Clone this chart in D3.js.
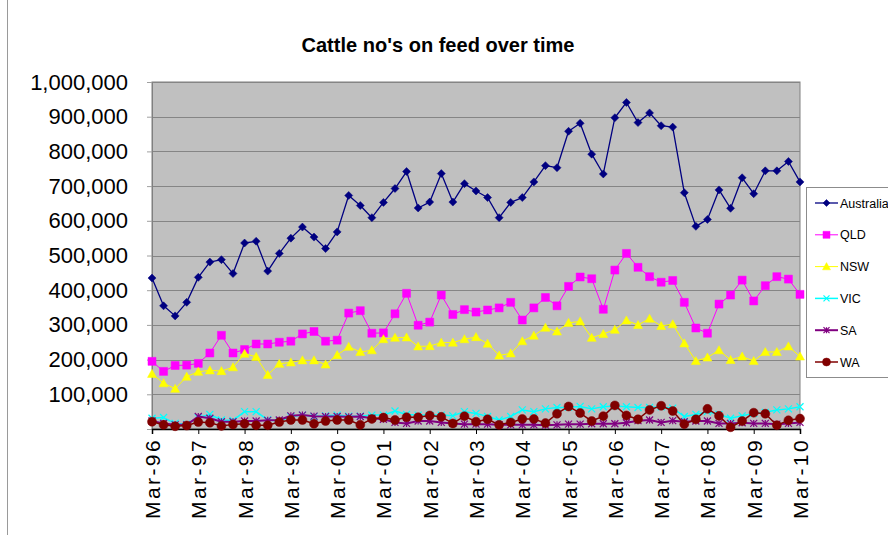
<!DOCTYPE html>
<html>
<head>
<meta charset="utf-8">
<script src="https://cdn.jsdelivr.net/npm/d3@7"></script>
<style>
  body { margin: 0; background: #fff; }
  svg { display: block; }
</style>
</head>
<body>
<div id="chart"></div>
<script>
// quarterly categories
const quarters = [
  "Mar-96","Jun-96","Sep-96","Dec-96","Mar-97","Jun-97","Sep-97","Dec-97",
  "Mar-98","Jun-98","Sep-98","Dec-98","Mar-99","Jun-99","Sep-99","Dec-99",
  "Mar-00","Jun-00","Sep-00","Dec-00","Mar-01","Jun-01","Sep-01","Dec-01",
  "Mar-02","Jun-02","Sep-02","Dec-02","Mar-03","Jun-03","Sep-03","Dec-03",
  "Mar-04","Jun-04","Sep-04","Dec-04","Mar-05","Jun-05","Sep-05","Dec-05",
  "Mar-06","Jun-06","Sep-06","Dec-06","Mar-07","Jun-07","Sep-07","Dec-07",
  "Mar-08","Jun-08","Sep-08","Dec-08","Mar-09","Jun-09","Sep-09","Dec-09",
  "Mar-10"
];

// head on feed, in thousands
const australia = [435,355,326,365,437,481,488,448,536,541,455,506,550,582,553,520,568,673,644,
  609,653,693,742,637,654,736,654,707,686,667,609,653,667,712,759,753,858,881,792,
  735,897,941,883,911,874,870,681,584,604,689,636,724,678,744,744,771,712];
const qld = [195,166,183,184,189,219,270,219,229,245,245,250,253,274,281,253,256,334,341,
  276,277,332,391,299,308,386,330,344,337,343,349,365,314,349,379,355,411,438,433,
  345,458,506,466,439,423,428,365,291,276,360,386,429,369,413,439,432,388];
const nsw = [159,132,116,151,165,169,167,178,217,208,156,188,192,198,198,186,213,237,222,
  227,259,263,264,238,239,249,249,259,265,246,212,218,253,269,292,281,306,310,263,
  274,286,313,300,318,297,302,247,196,206,227,199,209,196,222,222,238,209];
const vic = [31,33,16,14,33,42,26,25,50,50,26,23,36,40,36,
  38,40,37,37,40,40,52,42,40,40,40,38,50,45,
  36,26,36,55,50,58,62,63,65,58,64,66,64,
  62,62,64,60,36,42,50,42,31,38,45,48,55,58,64];
const sa = [23,16,12,12,36,31,21,21,23,23,25,26,38,40,37,
  36,36,35,36,31,28,19,16,23,23,19,16,14,14,
  14,12,12,12,12,11,12,14,14,15,15,15,18,
  24,26,19,24,21,23,23,16,16,18,16,16,14,16,19];
const wa = [21,12,8,10,20,18,9,13,15,11,11,20,26,26,15,
  23,26,26,12,29,33,26,34,34,39,35,16,37,21,
  28,12,19,29,29,17,44,65,46,23,37,68,39,
  28,55,67,52,14,28,58,38,5,23,47,44,11,25,30];

const seriesNames = ["Australia","QLD","NSW","VIC","SA","WA"];
const yTicks = [0,100,200,300,400,500,600,700,800,900,1000];

const series = [
  {name: "Australia", values: australia, color: "#000080", width: 1.3, marker: "diamond"},
  {name: "QLD", values: qld, color: "#ff00ff", width: 1, marker: "square"},
  {name: "NSW", values: nsw, color: "#ffff00", width: 1, marker: "triangle"},
  {name: "VIC", values: vic, color: "#00ffff", width: 1.5, marker: "x"},
  {name: "SA", values: sa, color: "#800080", width: 2, marker: "star"},
  {name: "WA", values: wa, color: "#800000", width: 1.5, marker: "circle"}
];

const width = 888, height = 535;
const plot = {left: 152, right: 800, top: 82, bottom: 429};

const svg = d3.select("#chart").append("svg")
    .attr("width", width)
    .attr("height", height)
    .style("font-family", "Arial, 'Liberation Sans', sans-serif");

// chart area edge on the left
svg.append("line")
    .attr("x1", 7.5).attr("x2", 7.5).attr("y1", 0).attr("y2", height)
    .attr("stroke", "#9a9a9a");

const x = d3.scalePoint().domain(quarters).range([plot.left, plot.right]);
const y = d3.scaleLinear().domain([0, 1000]).range([plot.bottom, plot.top]);

// plot background
svg.append("rect")
    .attr("x", plot.left).attr("y", plot.top)
    .attr("width", plot.right - plot.left).attr("height", plot.bottom - plot.top)
    .attr("fill", "#c0c0c0")
    .attr("stroke", "#808080");

// gridlines
svg.append("g").selectAll("line")
    .data(yTicks.slice(1))
    .enter().append("line")
    .attr("x1", plot.left).attr("x2", plot.right)
    .attr("y1", d => Math.round(y(d)) + 0.5).attr("y2", d => Math.round(y(d)) + 0.5)
    .attr("stroke", "#858585");

// y axis
const yAxis = svg.append("g")
    .attr("transform", `translate(${plot.left},0)`)
    .call(d3.axisLeft(y).tickValues(yTicks).tickSize(5).tickPadding(19)
        .tickFormat(d => d ? d3.format(",")(d * 1000) : ""));
yAxis.select(".domain").attr("stroke", "#808080");
yAxis.selectAll(".tick line").attr("stroke", "#a0a0a0");
yAxis.selectAll(".tick text")
    .attr("font-size", 22)
    .attr("fill", "#000")
    .attr("font-family", "Arial, 'Liberation Sans', sans-serif");

// x axis
const xAxis = svg.append("g")
    .attr("transform", `translate(0,${plot.bottom})`)
    .call(d3.axisBottom(x).tickValues(quarters.filter(q => q.startsWith("Mar"))).tickSize(5));
xAxis.select(".domain").attr("stroke", "#000").attr("stroke-width", 1.5);
xAxis.selectAll(".tick line").attr("stroke", "#000");
xAxis.selectAll(".tick text")
    .attr("font-size", 21)
    .attr("fill", "#000")
    .attr("font-family", "Arial, 'Liberation Sans', sans-serif")
    .attr("letter-spacing", 2.4)
    .attr("text-anchor", "end")
    .attr("transform", "rotate(-90)")
    .attr("x", -9)
    .attr("y", 0)
    .attr("dy", "0.36em");

// markers
function markerPath(type, s) {
  const h = s / 2;
  switch (type) {
    case "diamond": return `M0,${-h}L${h},0L0,${h}L${-h},0Z`;
    case "square": return `M${-h},${-h}H${h}V${h}H${-h}Z`;
    case "triangle": return `M0,${-h}L${h},${h * 0.8}L${-h},${h * 0.8}Z`;
    case "x": return `M${-h},${-h}L${h},${h}M${-h},${h}L${h},${-h}`;
    case "star": return `M0,${-h}V${h}M${-h},${-h}L${h},${h}M${-h},${h}L${h},${-h}`;
    case "circle": return d3.arc()({innerRadius: 0, outerRadius: h, startAngle: 0, endAngle: 2 * Math.PI});
  }
}
const markerSize = {diamond: 8, square: 8, triangle: 9, x: 7, star: 7, circle: 9};

function drawMarker(g, type, color, px, py, size) {
  const stroked = type === "x" || type === "star";
  g.append("path")
      .attr("transform", `translate(${px},${py})`)
      .attr("d", markerPath(type, size))
      .attr("fill", stroked ? "none" : color)
      .attr("stroke", color)
      .attr("stroke-width", stroked ? 1.2 : 0.5);
}

const line = d3.line()
    .x((d, i) => x(quarters[i]))
    .y(d => y(d));

series.forEach(s => {
  const g = svg.append("g");
  g.append("path")
      .datum(s.values)
      .attr("fill", "none")
      .attr("stroke", s.color)
      .attr("stroke-width", s.width)
      .attr("stroke-linejoin", "round")
      .attr("d", line);
  s.values.forEach((v, i) => drawMarker(g, s.marker, s.color, x(quarters[i]), y(v), markerSize[s.marker]));
});

// title
svg.append("text")
    .attr("x", 438).attr("y", 52)
    .attr("text-anchor", "middle")
    .attr("font-size", 21)
    .attr("font-weight", "bold")
    .attr("textLength", 273)
    .attr("lengthAdjust", "spacingAndGlyphs")
    .text("Cattle no's on feed over time");

// legend
const legend = svg.append("g");
legend.append("rect")
    .attr("x", 806.5).attr("y", 187.5)
    .attr("width", 100).attr("height", 190)
    .attr("fill", "#fff")
    .attr("stroke", "#8c8c8c");
series.forEach((s, i) => {
  const ly = 203 + i * 31.8;
  legend.append("line")
      .attr("x1", 815).attr("x2", 838).attr("y1", ly).attr("y2", ly)
      .attr("stroke", s.color)
      .attr("stroke-width", s.width);
  drawMarker(legend, s.marker, s.color, 826.5, ly, markerSize[s.marker] - 1);
  legend.append("text")
      .attr("x", 840).attr("y", ly + 4.5)
      .attr("font-size", 12.5)
      .text(seriesNames[i]);
});
</script>
</body>
</html>
